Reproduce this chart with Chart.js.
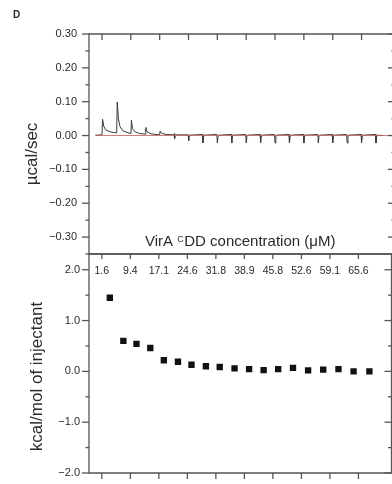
<!DOCTYPE html>
<html><head><meta charset="utf-8">
<script src="https://cdn.jsdelivr.net/npm/chart.js@4"></script>
<style>
html,body{margin:0;padding:0;background:#fff;width:392px;height:484px;overflow:hidden;position:relative;}
canvas{position:absolute;left:0;}
#a{top:0;} #b{top:246px;}
</style></head><body>
<canvas id="a" width="396" height="262"></canvas>
<canvas id="b" width="396" height="238"></canvas>
<script>
// ---- raw thermogram (time in injection intervals, power in µcal/sec) ----
const traceTime = [-0.45,0.00,0.04,0.12,0.25,0.50,0.80,1.02,1.06,1.14,1.25,1.45,1.75,2.01,2.04,2.12,2.30,2.60,3.01,3.04,3.13,3.40,4.00,4.03,4.15,4.50,5.00,5.02,5.05,5.10,5.98,6.01,6.06,6.97,7.00,7.06,7.97,8.00,8.06,8.97,9.00,9.06,9.97,10.00,10.06,10.97,11.00,11.06,11.97,12.00,12.06,12.97,13.00,13.06,13.97,14.00,14.06,14.97,15.00,15.06,15.97,16.00,16.06,16.97,17.00,17.06,17.97,18.00,18.06,18.97,19.00,19.06,19.50];
const tracePower = [0.001,0.002,0.048,0.028,0.017,0.012,0.009,0.008,0.099,0.050,0.026,0.014,0.009,0.006,0.045,0.020,0.011,0.006,0.004,0.024,0.011,0.005,0.002,0.013,0.006,0.003,0.002,0.006,-0.010,0.002,0.002,-0.016,0.001,0.003,-0.022,0.001,0.003,-0.022,0.001,0.003,-0.022,0.001,0.003,-0.022,0.001,0.003,-0.022,0.001,0.003,-0.022,0.001,0.003,-0.022,0.001,0.003,-0.022,0.001,0.003,-0.022,0.001,0.003,-0.022,0.001,0.003,-0.022,0.001,0.003,-0.022,0.001,0.003,-0.022,0.001,0.000];
const baselineTime = [-0.45, 20.4];
const baselinePower = [0, 0];
// ---- integrated heats ----
const heatTime = [0.56,1.51,2.43,3.40,4.35,5.34,6.29,7.30,8.27,9.31,10.33,11.35,12.37,13.41,14.47,15.53,16.60,17.66,18.77];
const heatValue = [1.45,0.60,0.54,0.46,0.22,0.19,0.13,0.10,0.085,0.06,0.045,0.025,0.045,0.07,0.02,0.035,0.045,0.0,0.0];
// ---- axes ----
const timeTicks = [0,2,4,6,8,10,12,14,16,18];
const concLabels = ['1.6','9.4','17.1','24.6','31.8','38.9','45.8','52.6','59.1','65.6'];
const powerTicks = [0.30,0.25,0.20,0.15,0.10,0.05,0.00,-0.05,-0.10,-0.15,-0.20,-0.25,-0.30,-0.35];
const heatTicks = [2.0,1.5,1.0,0.5,0.0,-0.5,-1.0,-1.5,-2.0];

const FONT = "'Liberation Sans', Arial, Helvetica, sans-serif";
const AXIS = '#555';
const TXT = '#2a2a2a';

function line(ctx,x1,y1,x2,y2){ctx.beginPath();ctx.moveTo(x1,y1);ctx.lineTo(x2,y2);ctx.stroke();}
function fmt(v,d){ const s = Math.abs(v).toFixed(d); return (v < -1e-9 ? '\u2212' : '') + s; }

function framePlugin(o){
  return {
    id:'frame',
    afterDraw(chart){
      const ctx = chart.ctx, a = chart.chartArea, xs = chart.scales.x, ys = chart.scales.y;
      ctx.save();
      ctx.strokeStyle = AXIS; ctx.lineWidth = 1.3;
      ctx.beginPath(); ctx.rect(a.left, a.top, a.right - a.left, a.bottom - a.top); ctx.stroke();
      ys.ticks.forEach(t => {
        const y = ys.getPixelForValue(t.value);
        const L = o.isMajor(t.value) ? 7 : 3.5;
        line(ctx, a.left - L, y, a.left, y);
        line(ctx, a.right - L, y, a.right, y);
      });
      timeTicks.forEach(v => {
        const x = xs.getPixelForValue(v);
        if (o.topIn) line(ctx, x, a.top, x, a.top + o.topIn);
        if (o.bottomOut) line(ctx, x, a.bottom, x, a.bottom + o.bottomOut);
      });
      if (o.extra) o.extra(chart, ctx, a, xs, ys);
      ctx.restore();
    }
  };
}

const commonY = (min,max,ticks,pad,dec,isMajor) => ({
  type:'linear', min, max,
  afterFit(s){ s.width = 89; s.paddingTop = 0; s.paddingBottom = 0; s.paddingLeft = 0; s.paddingRight = 0; },
  afterBuildTicks(s){ s.ticks = ticks.map(v => ({value:v})); },
  grid:{display:false, drawTicks:false},
  border:{display:false},
  ticks:{autoSkip:false, padding:pad, color:TXT, font:{family:FONT, size:11},
    callback:(v) => isMajor(v) ? fmt(v,dec) : ''}
});

const majorPow = v => Math.abs(Math.round(v*100)) % 10 === 0;
const majorHeat = v => Math.abs(Math.round(v*10)) % 10 === 0;

new Chart(document.getElementById('a'), {
  type:'line',
  data:{datasets:[
    {data: baselineTime.map((t,i)=>({x:t,y:baselinePower[i]})), borderColor:'rgba(205,95,95,0.85)', borderWidth:1, pointRadius:0, tension:0},
    {data: traceTime.map((t,i)=>({x:t,y:tracePower[i]})), borderColor:'#3a3a3a', borderWidth:1, pointRadius:0, tension:0}
  ]},
  options:{
    responsive:false, animation:false, devicePixelRatio:1,
    layout:{padding:{top:34,right:1,bottom:8,left:0}},
    plugins:{legend:{display:false}, tooltip:{enabled:false}},
    scales:{
      x:{type:'linear', display:false, min:-0.9, max:20.32},
      y: commonY(-0.35, 0.30, powerTicks, 12, 2, majorPow)
    }
  },
  plugins:[framePlugin({isMajor:majorPow, topIn:6, extra:(chart,ctx,a)=>{
    ctx.fillStyle = TXT;
    ctx.font = 'bold 10px ' + FONT; ctx.textAlign='left'; ctx.textBaseline='alphabetic';
    ctx.fillText('D', 13, 17.7);
    ctx.save(); ctx.translate(32,154); ctx.rotate(-Math.PI/2);
    ctx.font = '17px ' + FONT; ctx.textAlign='center'; ctx.textBaseline='middle';
    ctx.fillText('\u00B5cal/sec', 0, 0); ctx.restore();
    let x = 145; const yb = 245.5;
    ctx.textAlign='left'; ctx.textBaseline='alphabetic';
    ctx.font = '15px ' + FONT; ctx.fillText('VirA ', x, yb); x += ctx.measureText('VirA ').width;
    ctx.font = '9px ' + FONT; ctx.fillText('C', x, yb - 4); x += ctx.measureText('C').width + 0.5;
    ctx.font = '15px ' + FONT; ctx.fillText('DD concentration (\u03BCM)', x, yb);
  }})]
});

new Chart(document.getElementById('b'), {
  type:'scatter',
  data:{datasets:[
    {data: heatTime.map((t,i)=>({x:t,y:heatValue[i]})), pointStyle:'rect', pointRadius:4.5, backgroundColor:'#111', borderWidth:0, showLine:false}
  ]},
  options:{
    responsive:false, animation:false, devicePixelRatio:1,
    layout:{padding:{top:8,right:1,bottom:11,left:0}},
    plugins:{legend:{display:false}, tooltip:{enabled:false}},
    scales:{
      x:{type:'linear', display:false, min:-0.9, max:20.32},
      y: commonY(-2.0, 2.31, heatTicks, 9, 1, majorHeat)
    }
  },
  plugins:[framePlugin({isMajor:majorHeat, topIn:5, bottomOut:6, extra:(chart,ctx,a,xs)=>{
    ctx.fillStyle = TXT;
    ctx.font = '10.5px ' + FONT; ctx.textAlign='center'; ctx.textBaseline='alphabetic';
    timeTicks.forEach((v,i) => ctx.fillText(concLabels[i], xs.getPixelForValue(v), a.top + 20.3));
    ctx.save(); ctx.translate(37,130.5); ctx.rotate(-Math.PI/2);
    ctx.font = '17px ' + FONT; ctx.textAlign='center'; ctx.textBaseline='middle';
    ctx.fillText('kcal/mol of injectant', 0, 0); ctx.restore();
  }})]
});
</script>
</body></html>
